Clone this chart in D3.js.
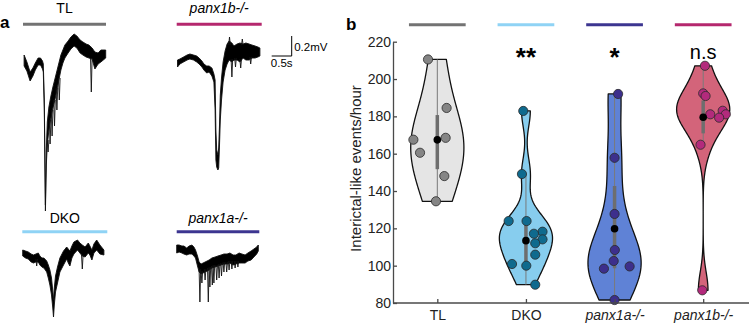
<!DOCTYPE html>
<html><head><meta charset="utf-8">
<script src="https://cdn.jsdelivr.net/npm/d3@7"></script>
<style>
body{margin:0;background:#fff}
svg{display:block;font-family:Arial,"Liberation Sans",sans-serif}
</style>
</head><body>
<svg id="chart" width="750" height="325"></svg>
<script>
// ---------------- DATA ----------------
const categories = ["TL", "DKO", "panx1a-/-", "panx1b-/-"];
const italicCategory = [false, false, true, true];
const groupColors = ["#737373", "#8fd3f5", "#3c3590", "#b5286e"];
const violinFills = ["#e5e5e5", "#87cdee", "#5f82d6", "#d3647a"];
const pointFills  = ["#858585", "#0f6a8e", "#3d2f8c", "#b32a7c"];

const tlValues     = [210.5, 184.5, 168.5, 167.5, 160.5, 148, 134.5];
const dkoValues    = [182.9, 149.1, 123.9, 123.9, 118.2, 117.1, 114.1, 112, 105.9, 100.9, 100, 89.8];
const panx1aValues = [192, 157.8, 127.7, 108.4, 102.5, 99.6, 98.4, 81.6];
const panx1bValues = [207.1, 192.3, 190.9, 183, 181.1, 181.1, 179.3, 164.8, 86.8];

// horizontal jitter of each point, in category units
const tlJitter     = [-0.105, 0.105, 0.094, -0.27, -0.195, 0.079, -0.015];
const dkoJitter    = [-0.03, -0.045, -0.195, 0.007, 0.187, 0.09, 0.187, 0.105, 0.105, -0.157, 0.004, 0.105];
const panx1aJitter = [0.04, 0, 0, 0.003, -0.01, 0.17, -0.12, 0];
const panx1bJitter = [0.02, 0.0, 0.027, 0.22, 0.08, 0.255, 0.18, -0.03, -0.01];

// summary marks (black dot, thick bar)
const centerValues = [167.4, 113.4, 119.8, 179.5];
const q1Values     = [151.7, 98.6, 98.6, 170.9];
const q3Values     = [180.7, 121.8, 142.7, 188.5];

const significance = ["", "**", "*", "n.s"];
const yTicks = [80, 100, 120, 140, 160, 180, 200, 220];
const yLabel = "Interictal-like events/hour";

// electrophysiology traces
// band: [time (s), upper edge (mV), lower edge (mV)]; spikes: [time (s), from (mV), to (mV)]
const traceTLBand = [
  [0.02,0.05,-0.06],[0.09,-0.02,-0.11],[0.17,-0.12,-0.21],[0.24,-0.08,-0.16],[0.30,-0.03,-0.10],
  [0.37,0.02,-0.05],[0.43,0.02,-0.05],[0.48,-0.01,-0.09],[0.50,-0.04,-0.12],[0.525,-0.40,-0.50],
  [0.553,-1.45,-1.51],[0.575,-0.90,-1.05],[0.60,-0.62,-0.85],[0.64,-0.47,-0.70],[0.69,-0.36,-0.58],
  [0.74,-0.27,-0.48],[0.79,-0.19,-0.40],[0.84,-0.11,-0.30],[0.89,-0.03,-0.20],[0.94,0.05,-0.10],
  [0.99,0.10,-0.03],[1.04,0.15,0.02],[1.12,0.19,0.07],[1.19,0.23,0.11],[1.27,0.26,0.14],
  [1.34,0.24,0.12],[1.42,0.20,0.07],[1.49,0.18,0.05],[1.57,0.16,0.03],[1.64,0.15,0.02],
  [1.72,0.12,0.01],[1.79,0.08,-0.09],[1.87,0.07,-0.04],[1.94,0.10,-0.02],[2.06,0.10,0.02]
];
const traceTLSpikes = [
  [0.62,-0.80,-0.92],[0.67,-0.60,-0.84],[0.72,-0.50,-0.76],[0.78,-0.40,-0.66],
  [0.84,-0.28,-0.50],[0.90,-0.18,-0.40],[1.70,0.02,-0.32]
];
const tracePanx1bBand = [
  [0.02,0.03,-0.04],[0.08,0.04,-0.01],[0.17,0.06,0.01],[0.26,0.08,0.03],[0.33,0.09,0.04],
  [0.42,0.08,0.03],[0.50,0.07,0.01],[0.56,0.05,-0.01],[0.63,0.02,-0.04],[0.68,-0.01,-0.07],
  [0.75,-0.03,-0.10],[0.81,-0.03,-0.09],[0.88,-0.05,-0.13],[0.93,-0.11,-0.19],[0.96,-0.17,-0.47],
  [0.98,-0.67,-0.97],[1.00,-0.87,-1.04],[1.03,-0.92,-1.07],[1.05,-0.85,-1.05],[1.07,-0.62,-0.82],
  [1.09,-0.32,-0.57],[1.12,-0.15,-0.37],[1.16,0.01,-0.19],[1.21,0.12,-0.07],[1.26,0.19,-0.01],
  [1.31,0.22,0.03],[1.38,0.20,0.01],[1.43,0.17,0.03],[1.51,0.19,0.03],[1.58,0.20,0.01],
  [1.66,0.19,0.05],[1.73,0.20,0.03],[1.81,0.19,0.03],[1.88,0.18,0.05],[1.96,0.17,0.05],
  [2.03,0.16,0.06],[2.08,0.15,0.07]
];
const tracePanx1bSpikes = [
  [1.32,0.18,0.26],[1.38,0.04,-0.14],[1.47,0.05,-0.04],[1.60,0.04,-0.05],[1.64,0.18,0.24],[1.85,0.06,-0.01]
];
const traceDKOBand = [
  [0.01,0.03,-0.03],[0.08,0.02,-0.05],[0.15,0.01,-0.06],[0.22,-0.01,-0.09],[0.28,-0.02,-0.10],
  [0.34,-0.01,-0.09],[0.40,0.00,-0.09],[0.44,-0.03,-0.12],[0.49,-0.05,-0.14],[0.54,-0.05,-0.15],
  [0.61,-0.08,-0.19],[0.65,-0.12,-0.25],[0.69,-0.17,-0.32],[0.73,-0.25,-0.42],[0.76,-0.37,-0.54],
  [0.78,-0.47,-0.64],[0.80,-0.35,-0.52],[0.83,-0.23,-0.39],[0.88,-0.14,-0.30],[0.94,-0.05,-0.19],
  [1.03,0.02,-0.12],[1.11,0.06,-0.06],[1.15,0.04,-0.10],[1.19,0.02,-0.13],[1.24,0.07,-0.05],
  [1.29,0.11,-0.01],[1.38,0.13,0.03],[1.44,0.10,0.00],[1.50,0.08,-0.03],[1.57,0.06,-0.04],
  [1.65,0.10,0.00],[1.69,0.07,-0.02],[1.74,0.03,-0.07],[1.79,0.09,0.00],[1.86,0.13,0.03],
  [1.94,0.08,-0.01],[2.04,0.03,-0.02]
];
const traceDKOSpikes = [[1.50,-0.02,-0.16],[0.36,-0.06,-0.13]];
const tracePanx1aBand = [
  [0.00,0.04,-0.04],[0.06,0.04,-0.03],[0.13,0.03,-0.04],[0.18,0.03,-0.05],[0.25,0.01,-0.06],
  [0.31,0.03,-0.05],[0.38,0.04,-0.05],[0.43,0.02,-0.07],[0.47,-0.01,-0.09],[0.52,-0.07,-0.17],
  [0.56,-0.13,-0.23],[0.61,-0.15,-0.25],[0.66,-0.14,-0.24],[0.71,-0.13,-0.23],[0.76,-0.12,-0.22],
  [0.81,-0.11,-0.21],[0.88,-0.09,-0.19],[0.96,-0.08,-0.18],[1.03,-0.07,-0.17],[1.11,-0.06,-0.16],
  [1.18,-0.05,-0.15],[1.26,-0.05,-0.15],[1.33,-0.04,-0.14],[1.41,-0.06,-0.16],[1.48,-0.06,-0.15],
  [1.56,-0.04,-0.14],[1.63,-0.05,-0.14],[1.71,-0.06,-0.14],[1.78,-0.04,-0.12],[1.86,-0.02,-0.11],
  [1.93,0.00,-0.08],[2.00,0.02,-0.05],[2.04,0.04,-0.02]
];
const tracePanx1aSpikes = [
  [0.58,-0.20,-0.53],[0.63,-0.22,-0.34],[0.71,-0.20,-0.31],[0.79,-0.19,-0.53],[0.83,-0.18,-0.38],
  [0.89,-0.17,-0.36],[0.93,-0.16,-0.34],[1.00,-0.16,-0.31],[1.06,-0.15,-0.29],[1.12,-0.14,-0.27],
  [1.18,-0.13,-0.23],[1.25,-0.13,-0.23],[1.31,-0.12,-0.21],[1.38,-0.12,-0.20],[1.46,-0.12,-0.19],
  [1.53,-0.12,-0.18]
];

// ---------------- DRAWING ----------------
const svg = d3.select("#chart");
const FONT = 'Arial,"Liberation Sans",sans-serif';

// ===== Panel a =====
svg.append("text").attr("x", 0).attr("y", 28).attr("font-size", 17).attr("font-weight", "bold").text("a");

const tx = d3.scaleLinear().domain([0, 0.5]).range([0, 20]);   // 0.5 s = 20 px
const ty = d3.scaleLinear().domain([0, 0.2]).range([0, -20]);  // 0.2 mV = 20 px

const panels = [
  {name: "TL", italic: false, color: groupColors[0], band: traceTLBand, spikes: traceTLSpikes, lx0: 23, lx1: 106, ly: 24.3, labY: 13, ox: 23.3, oy: 60},
  {name: "panx1b-/-", italic: true, color: groupColors[3], band: tracePanx1bBand, spikes: tracePanx1bSpikes, lx0: 176.7, lx1: 261.7, ly: 24.3, labY: 13, ox: 176.7, oy: 63},
  {name: "DKO", italic: false, color: groupColors[1], band: traceDKOBand, spikes: traceDKOSpikes, lx0: 22.3, lx1: 107.3, ly: 231.7, labY: 223, ox: 22.3, oy: 253},
  {name: "panx1a-/-", italic: true, color: groupColors[2], band: tracePanx1aBand, spikes: tracePanx1aSpikes, lx0: 176.7, lx1: 259.3, ly: 231.7, labY: 223, ox: 176.7, oy: 249}
];
const area = d3.area().x(d => tx(d[0])).y0(d => ty(d[2])).y1(d => ty(d[1]));
panels.forEach(p => {
  svg.append("text").attr("x", (p.lx0 + p.lx1) / 2).attr("y", p.labY)
    .attr("text-anchor", "middle").attr("font-size", 14)
    .attr("font-style", p.italic ? "italic" : "normal").text(p.name);
  svg.append("line").attr("x1", p.lx0).attr("x2", p.lx1).attr("y1", p.ly).attr("y2", p.ly)
    .attr("stroke", p.color).attr("stroke-width", 3);
  const g = svg.append("g").attr("transform", `translate(${p.ox},${p.oy})`);
  g.append("path").datum(p.band).attr("d", area).attr("fill", "#000").attr("stroke", "#111")
    .attr("stroke-width", 0.9).attr("stroke-linejoin", "round");
  g.selectAll("path.spike").data(p.spikes).join("path").attr("class", "spike")
    .attr("d", d => `M${tx(d[0] - 0.02)},${ty(d[1])}L${tx(d[0])},${ty(d[2])}L${tx(d[0] + 0.02)},${ty(d[1])}`)
    .attr("fill", "none").attr("stroke", "#111").attr("stroke-width", 0.9);
});

// scale bar
const sb = svg.append("g").attr("transform", "translate(291.7,56)");
sb.append("path").attr("d", `M${-tx(0.5)},0H0V${ty(0.2)}`).attr("fill", "none").attr("stroke", "#000").attr("stroke-width", 1);
sb.append("text").attr("x", 2.5).attr("y", -5.5).attr("font-size", 11.5).text("0.2mV");
sb.append("text").attr("x", -tx(0.5) / 2).attr("y", 11.3).attr("font-size", 11.5).attr("text-anchor", "middle").text("0.5s");

// ===== Panel b =====
const groups = [
  {values: tlValues, jitter: tlJitter},
  {values: dkoValues, jitter: dkoJitter},
  {values: panx1aValues, jitter: panx1aJitter},
  {values: panx1bValues, jitter: panx1bJitter}
];
const x = d3.scaleLinear().domain([0.5, 4.5]).range([393, 747.5]);
const y = d3.scaleLinear().domain([80, 220]).range([303, 41.7]);

svg.append("text").attr("x", 346).attr("y", 30).attr("font-size", 17).attr("font-weight", "bold").text("b");

// MATLAB ksdensity-like default bandwidth
function bandwidth(data) {
  const m = d3.median(data);
  let s = d3.median(data.map(v => Math.abs(v - m))) / 0.6745;
  if (!(s > 0)) s = d3.max(data) - d3.min(data);
  return s * Math.pow(4 / (3 * data.length), 0.2);
}
function kde(data) {
  const h = bandwidth(data), lo = d3.min(data), hi = d3.max(data), N = 120;
  return d3.range(N + 1).map(i => {
    const v = lo + (hi - lo) * i / N;
    return [v, d3.sum(data, d => Math.exp(-0.5 * ((v - d) / h) ** 2))];
  });
}
const violinWidth = 0.3;

groups.forEach((gr, i) => {
  const pos = i + 1;
  const dens = kde(gr.values);
  const k = violinWidth / d3.max(dens, d => d[1]);
  const pts = dens.map(d => [x(pos - d[1] * k), y(d[0])])
    .concat(dens.slice().reverse().map(d => [x(pos + d[1] * k), y(d[0])]));
  svg.append("path").attr("d", "M" + pts.map(p => p.join(",")).join("L") + "Z")
    .attr("fill", violinFills[i]).attr("stroke", "#111").attr("stroke-width", 1.3).attr("stroke-linejoin", "round");

  // whiskers (Tukey, as violinplot does)
  const iqr = q3Values[i] - q1Values[i];
  const lowW = Math.max(q1Values[i] - 1.5 * iqr, d3.min(gr.values.filter(v => v >= q1Values[i] - 1.5 * iqr)));
  const hiW = Math.min(q3Values[i] + 1.5 * iqr, d3.max(gr.values.filter(v => v <= q3Values[i] + 1.5 * iqr)));
  svg.append("line").attr("x1", x(pos)).attr("x2", x(pos)).attr("y1", y(lowW)).attr("y2", y(hiW))
    .attr("stroke", "#7a7a7a").attr("stroke-width", 1);
  svg.append("line").attr("x1", x(pos)).attr("x2", x(pos)).attr("y1", y(q1Values[i])).attr("y2", y(q3Values[i]))
    .attr("stroke", "#6e6e6e").attr("stroke-width", 3.5);

  // points
  svg.append("g").selectAll("circle").data(gr.values).join("circle")
    .attr("cx", (d, j) => x(pos + gr.jitter[j])).attr("cy", d => y(d)).attr("r", 4.6)
    .attr("fill", pointFills[i]).attr("stroke", "#2a2a2a").attr("stroke-width", 0.8);

  // center dot
  svg.append("circle").attr("cx", x(pos)).attr("cy", y(centerValues[i])).attr("r", 3.8).attr("fill", "#000");

  // group colour bar on top
  svg.append("line").attr("x1", x(pos - 0.32)).attr("x2", x(pos + 0.32)).attr("y1", 24.7).attr("y2", 24.7)
    .attr("stroke", groupColors[i]).attr("stroke-width", 3);

  // significance
  if (significance[i]) {
    const isStar = significance[i].includes("*");
    svg.append("text").attr("x", x(pos)).attr("y", isStar ? 66 : 58.5)
      .attr("text-anchor", "middle").attr("font-size", isStar ? 26 : 20)
      .attr("font-weight", isStar ? "bold" : "normal").text(significance[i]);
  }
});

// axes
const axisColor = "#4a4a4a";
const yAxis = svg.append("g").attr("transform", "translate(393,0)")
  .call(d3.axisLeft(y).tickValues(yTicks).tickSizeInner(-4).tickSizeOuter(0).tickPadding(2));
const xAxis = svg.append("g").attr("transform", "translate(0,303)")
  .call(d3.axisBottom(x).tickValues([1, 2, 3, 4]).tickFormat((d, i) => categories[i])
    .tickSizeInner(-4).tickSizeOuter(0).tickPadding(7));
xAxis.select(".domain").attr("d", "M393,0H749");
[yAxis, xAxis].forEach(a => {
  a.select(".domain").attr("stroke", axisColor).attr("stroke-width", 1.3);
  a.selectAll(".tick line").attr("stroke", axisColor).attr("stroke-width", 1.3);
  a.selectAll("text").attr("font-size", 14).attr("font-family", FONT).attr("fill", "#222");
});
xAxis.selectAll(".tick text").attr("font-style", (d, i) => italicCategory[i] ? "italic" : "normal");

svg.append("text").attr("transform", "translate(360.5,168.5) rotate(-90)")
  .attr("text-anchor", "middle").attr("font-size", 15).attr("fill", "#222").text(yLabel);
</script>
</body></html>
